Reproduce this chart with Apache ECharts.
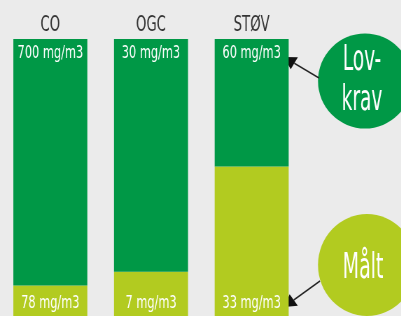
<!DOCTYPE html>
<html>
<head>
<meta charset="utf-8">
<script src="https://cdn.jsdelivr.net/npm/echarts@6/dist/echarts.min.js"></script>
<style>
  html, body { margin: 0; padding: 0; background: #ebebeb; overflow: hidden; }
  /* smal skrift: tegn bredere og klem sammen vannrett */
  #chart { width: 573px; height: 316px; transform: scaleX(0.7); transform-origin: 0 0; }
</style>
</head>
<body>
<div id="chart"></div>
<script>
// stoffer, lovkrav og målt verdi
const categories = ['CO', 'OGC', 'STØV'];
const limitLabels = ['700 mg/m3', '30 mg/m3', '60 mg/m3'];
const measuredLabels = ['78 mg/m3', '7 mg/m3', '33 mg/m3'];
// andel av søylen (prosent) som er målt, lest av bildet
const measuredShare = [11, 16, 54];
const restShare = [89, 84, 46];

const S = 0.7; // vannrett skala, se css
const FONT = "'DejaVu Sans Condensed', 'DejaVu Sans', sans-serif";
const DARK = '#009846';
const LIGHT = '#b2cb20';

/* pil fra sirkel til etikett (koordinater i bildepiksler) */
function arrow(x1, y1, x2, y2) {
    const ang = Math.atan2(y2 - y1, x2 - x1);
    const len = 12, half = 7;
    const bx = x2 - len * Math.cos(ang), by = y2 - len * Math.sin(ang);
    const px = -Math.sin(ang) * half, py = Math.cos(ang) * half;
    return [
        { type: 'line', shape: { x1: x1 / S, y1: y1, x2: bx / S, y2: by }, style: { stroke: '#222', lineWidth: 1.6 } },
        { type: 'polygon', shape: { points: [[x2 / S, y2], [(bx + px) / S, by + py], [(bx - px) / S, by - py]] }, style: { fill: '#111' } }
    ];
}

/* sirkel som blir rund etter klemmingen */
function bubble(cx, cy, rx, ry, color) {
    return { type: 'circle', x: cx / S, y: cy, scaleX: rx / ry / S, shape: { cx: 0, cy: 0, r: ry }, style: { fill: color } };
}

const chart = echarts.init(document.getElementById('chart'));

const option = {
    backgroundColor: '#ebebeb',
    animation: false,
    grid: { left: -3 / S, width: 305 / S, top: 39, bottom: 0 },
    xAxis: {
        type: 'category',
        position: 'top',
        data: categories,
        axisLine: { show: false },
        axisTick: { show: false },
        axisLabel: { margin: 3, color: '#333', fontSize: 21, fontFamily: FONT }
    },
    yAxis: { type: 'value', min: 0, max: 100, show: false, splitLine: { show: false } },
    series: [
        {
            type: 'bar',
            stack: 'a',
            barWidth: 74 / S,
            data: measuredShare,
            itemStyle: { color: LIGHT },
            label: {
                show: true, position: 'insideBottom', distance: 4,
                color: '#fff', fontSize: 18, fontFamily: FONT,
                formatter: p => measuredLabels[p.dataIndex]
            }
        },
        {
            type: 'bar',
            stack: 'a',
            barWidth: 74 / S,
            data: restShare,
            itemStyle: { color: DARK },
            label: {
                show: true, position: 'insideTop', distance: 5,
                color: '#fff', fontSize: 18, fontFamily: FONT,
                formatter: p => limitLabels[p.dataIndex]
            }
        }
    ],
    graphic: [
        bubble(365, 81, 47, 47.5, DARK),
        bubble(367, 265, 49, 51, LIGHT),
        {
            type: 'text', x: 362 / S, y: 81, scaleX: 0.82,
            style: { text: 'Lov-\nkrav', fill: '#fff', font: '36px ' + FONT, align: 'center', verticalAlign: 'middle', lineHeight: 40 }
        },
        {
            type: 'text', x: 363 / S, y: 269, scaleX: 0.86,
            style: { text: 'Målt', fill: '#fff', font: '35px ' + FONT, align: 'center', verticalAlign: 'middle' }
        },
        ...arrow(319, 78, 284, 57),
        ...arrow(320, 281, 284, 307)
    ]
};

chart.setOption(option);
</script>
</body>
</html>
